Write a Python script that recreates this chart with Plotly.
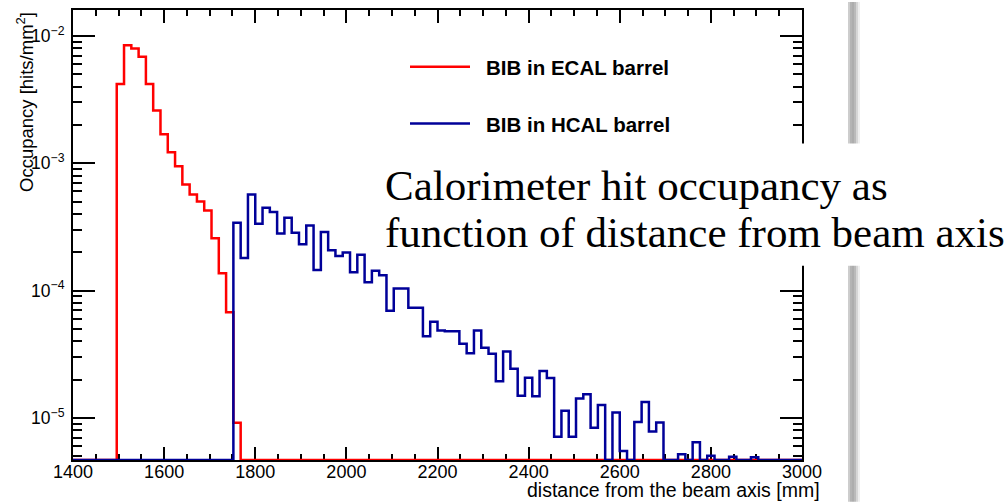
import plotly.graph_objects as go

# ---------------- data ----------------
bin_edges = list(range(1400, 3001, 16))  # 100 bins, 16 mm wide

ecal_barrel = [0, 0, 0, 0, 0, 0,
               4.19e-3, 8.46e-3, 7.96e-3, 6.85e-3, 4.19e-3, 2.59e-3, 1.69e-3,
               1.22e-3, 9.46e-4, 6.81e-4, 5.69e-4, 5.01e-4, 4.26e-4, 2.57e-4,
               1.37e-4, 6.75e-5, 9.14e-6] + [0] * 77

hcal_barrel = [0] * 22 + [
    3.41e-4, 1.80e-4, 5.68e-4, 3.35e-4, 4.46e-4, 4.13e-4, 2.80e-4, 3.73e-4,
    2.85e-4, 2.31e-4, 3.25e-4, 1.45e-4, 2.88e-4, 2.07e-4, 1.87e-4, 1.99e-4,
    1.39e-4, 1.91e-4, 1.16e-4, 1.43e-4, 1.32e-4, 6.95e-5, 1.04e-4, 1.04e-4,
    7.34e-5, 7.34e-5, 4.38e-5, 5.70e-5, 4.85e-5, 4.79e-5, 4.79e-5, 3.82e-5,
    3.22e-5, 4.85e-5, 3.55e-5, 3.19e-5, 1.94e-5, 3.32e-5, 2.43e-5, 1.49e-5,
    2.07e-5, 1.48e-5, 2.34e-5, 2.06e-5, 7.10e-6, 1.14e-5, 7.10e-6, 1.42e-5,
    1.53e-5, 8.35e-6, 1.26e-5, 0, 1.10e-5, 5.49e-6, 0, 9.30e-6,
    1.33e-5, 7.83e-6, 9.20e-6, 0, 0, 5.18e-6, 0, 6.45e-6,
    0, 5.04e-6, 0, 0, 4.95e-6, 0, 0, 4.90e-6,
    0, 0, 0, 0, 0, 0]

series_names = ["BIB in ECAL barrel", "BIB in HCAL barrel"]

x_tick_vals = [1400, 1600, 1800, 2000, 2200, 2400, 2600, 2800, 3000]
x_tick_labels = ["1400", "1600", "1800", "2000", "2200", "2400", "2600", "2800", "3000"]
y_tick_vals = [1e-5, 1e-4, 1e-3, 1e-2]
y_tick_labels = ["10<sup>−5</sup>", "10<sup>−4</sup>", "10<sup>−3</sup>", "10<sup>−2</sup>"]
y_minor_vals = [m * 10 ** e for e in (-6, -5, -4, -3) for m in range(2, 10)]

x_title = "distance from the beam axis [mm]"
y_title = "Occupancy [hits/mm<sup>2</sup>]"
caption_lines = ["Calorimeter hit occupancy as", "function of distance from beam axis"]

# ---------------- layout constants ----------------
W, H = 1007, 502
L, R, T, B = 73, 802, 8, 460          # plot area in pixels
Y_LOG_RANGE = [-5.3307, -1.7967]
FLOOR = 10 ** Y_LOG_RANGE[0]
RED = "#ff0000"
BLUE = "#000099"
SANS = "Liberation Sans, Arial, Helvetica, sans-serif"
SERIF = "Liberation Serif, Times New Roman, serif"


def px_x(p):
    return (p - L) / (R - L)


def px_y(p):
    return 1 - (p - T) / (B - T)


def step_xy(vals):
    v = [val if val > 0 else FLOOR for val in vals]
    return bin_edges, v + [v[-1]]


fig = go.Figure()
for vals, color, name in [(ecal_barrel, RED, series_names[0]),
                          (hcal_barrel, BLUE, series_names[1])]:
    xs, ys = step_xy(vals)
    fig.add_trace(go.Scatter(x=xs, y=ys, mode="lines", line_shape="hv",
                             line=dict(color=color, width=2.5), name=name,
                             cliponaxis=False, hoverinfo="skip"))

fig.update_layout(
    width=W, height=H,
    margin=dict(l=L, r=W - R, t=T, b=H - B, pad=0),
    paper_bgcolor="white", plot_bgcolor="white",
    showlegend=False,
    font=dict(family=SANS, color="black"),
)
fig.update_xaxes(
    range=[1400, 3000], showgrid=False, zeroline=False,
    showline=True, linecolor="black", linewidth=2, mirror="ticks",
    ticks="inside", ticklen=13, tickwidth=2, tickcolor="black",
    tickmode="array", tickvals=x_tick_vals, ticktext=x_tick_labels,
    tickfont=dict(size=18, family=SANS, color="black"),
    ticklabelstandoff=-6,
    minor=dict(ticks="inside", ticklen=6, tickwidth=1.5, tickcolor="black",
               tick0=1400, dtick=50, showgrid=False),
    layer="below traces",
)
fig.update_yaxes(
    type="log", range=Y_LOG_RANGE, showgrid=False, zeroline=False,
    showline=True, linecolor="black", linewidth=2, mirror="ticks",
    ticks="inside", ticklen=22, tickwidth=2, tickcolor="black",
    tickmode="array", tickvals=y_tick_vals, ticktext=y_tick_labels,
    tickfont=dict(size=17.5, family=SANS, color="black"),
    ticklabelstandoff=3,
    minor=dict(ticks="inside", ticklen=9, tickwidth=1.5, tickcolor="black",
               tickmode="array", tickvals=y_minor_vals, showgrid=False),
    layer="below traces",
)

shapes = []
# slide shadow bar at right
shadow = [(848, 850, "#cdcdcd"), (850, 852, "#b4b4b4"), (852, 854, "#adadad"),
          (854, 856, "#bababa"), (856, 858, "#d6d6d6"), (858, 860, "#efefef")]
for x0, x1, c in shadow:
    shapes.append(dict(type="rect", xref="paper", yref="paper",
                       x0=px_x(x0), x1=px_x(x1), y0=px_y(H), y1=px_y(0),
                       fillcolor=c, line=dict(width=0), layer="above"))
# white box behind caption
shapes.append(dict(type="rect", xref="paper", yref="paper",
                   x0=px_x(381), x1=px_x(W + 2), y0=px_y(265), y1=px_y(142),
                   fillcolor="white", line=dict(width=0), layer="above"))
# legend samples
for yy, c in [(65, RED), (122, BLUE)]:
    shapes.append(dict(type="line", xref="paper", yref="paper",
                       x0=px_x(410), x1=px_x(470), y0=px_y(yy), y1=px_y(yy),
                       line=dict(color=c, width=2.5), layer="above"))
fig.update_layout(shapes=shapes)

annotations = []
for yy, name in [(66, series_names[0]), (123, series_names[1])]:
    annotations.append(dict(xref="paper", yref="paper", x=px_x(484), y=px_y(yy),
                            xanchor="left", yanchor="middle", showarrow=False,
                            text="<b>" + name + "</b>",
                            font=dict(size=20.5, family=SANS, color="black")))
for yy, line in [(184, caption_lines[0]), (231, caption_lines[1])]:
    annotations.append(dict(xref="paper", yref="paper", x=px_x(383), y=px_y(yy),
                            xanchor="left", yanchor="middle", showarrow=False,
                            text=line, font=dict(size=43, family=SERIF, color="black")))
annotations.append(dict(xref="paper", yref="paper", x=px_x(822), y=px_y(490),
                        xanchor="right", yanchor="middle", showarrow=False,
                        text=x_title, font=dict(size=19.5, family=SANS, color="black")))
annotations.append(dict(xref="paper", yref="paper", x=px_x(25), y=px_y(8),
                        xanchor="center", yanchor="top", showarrow=False,
                        textangle=-90, text=y_title,
                        font=dict(size=18.5, family=SANS, color="black")))
fig.update_layout(annotations=annotations)

fig.write_html("out.html")
